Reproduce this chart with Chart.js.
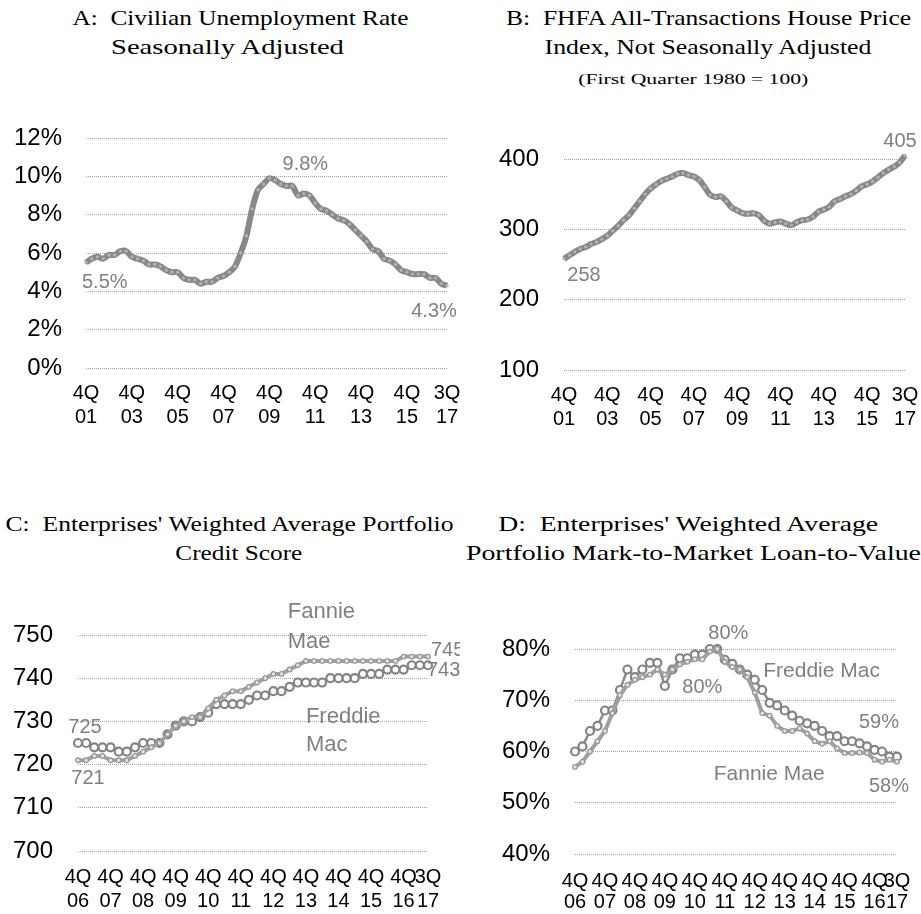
<!DOCTYPE html>
<html>
<head>
<meta charset="utf-8">
<script src="https://cdn.jsdelivr.net/npm/chart.js@4.4.1/dist/chart.umd.min.js"></script>
<style>
  html, body { margin: 0; padding: 0; background: #fff; }
  #wrap { position: relative; width: 921px; height: 914px; overflow: hidden; background: #fff; }
  canvas { position: absolute; }
  .t { position: absolute; white-space: pre; font-family: "Liberation Serif", "Times New Roman", serif;
       color: #000; transform-origin: 50% 50%; }
</style>
</head>
<body>
<div id="wrap">
  <canvas id="cA" width="460" height="340" style="left:0px; top:100px;"></canvas>
  <canvas id="cB" width="461" height="340" style="left:460px; top:100px;"></canvas>
  <canvas id="cC" width="460" height="334" style="left:0px; top:580px;"></canvas>
  <canvas id="cD" width="461" height="334" style="left:460px; top:580px;"></canvas>
</div>
<script>
// ---------- categories ----------
function quarters(q0, y0, q1, y1) {
  const out = [];
  let q = q0, y = y0;
  while (y < y1 || (y === y1 && q <= q1)) {
    out.push(q + 'Q' + String(y).padStart(2, '0'));
    q++; if (q > 4) { q = 1; y++; }
  }
  return out;
}
const quartersAB = quarters(4, 1, 3, 17);   // 4Q01 .. 3Q17
const quartersCD = quarters(4, 6, 3, 17);   // 4Q06 .. 3Q17

// ---------- series values ----------
const unemploymentRate = [5.5, 5.7, 5.8, 5.7, 5.9, 5.9, 6.1, 6.1, 5.8, 5.7, 5.6, 5.4, 5.4,
  5.3, 5.1, 5.0, 5.0, 4.7, 4.6, 4.6, 4.4, 4.5, 4.5, 4.7, 4.8, 5.0, 5.3, 6.0, 6.9,
  8.3, 9.3, 9.6, 9.9, 9.8, 9.6, 9.5, 9.5, 9.0, 9.1, 9.0, 8.6, 8.3, 8.2, 8.0, 7.8,
  7.7, 7.5, 7.2, 6.9, 6.6, 6.2, 6.1, 5.7, 5.6, 5.4, 5.1, 5.0, 4.9, 4.9, 4.9, 4.7,
  4.7, 4.4, 4.3];
const housePriceIndex = [258, 263, 268, 272, 275, 279, 282, 286, 291, 298, 305, 313, 320,
  330, 340, 350, 358, 364, 369, 372, 375, 379, 380, 377, 375, 370, 360, 349, 346,
  347, 340, 331, 327, 323, 322, 323, 320, 312, 308, 310, 311, 308, 306, 310, 313,
  314, 318, 325, 328, 332, 340, 343, 347, 350, 355, 361, 364, 368, 374, 380, 385,
  389, 395, 405];
const fannieCredit = [721, 721, 722, 722, 721, 721, 721, 722, 723, 724, 725, 727, 729, 730,
  731, 731, 733, 735, 736, 737, 737, 738, 739, 740, 741, 741, 742, 743, 744, 744,
  744, 744, 744, 744, 744, 744, 744, 744, 744, 744, 745, 745, 745, 745];
const freddieCredit = [725, 725, 724, 724, 724, 723, 723, 724, 725, 725, 725, 727, 729, 730,
  730, 731, 732, 734, 734, 734, 734, 735, 736, 736, 737, 737, 738, 739, 739, 739,
  739, 740, 740, 740, 740, 741, 741, 741, 742, 742, 742, 743, 743, 743];
const fannieLTV = [57, 58, 60, 62, 64, 67.5, 71, 73, 74, 74.5, 75, 76, 75, 76, 77, 77.5, 78,
  78, 79.5, 80, 77.5, 76.5, 76, 74.5, 71.5, 67.5, 67, 65, 64, 64, 64.5, 63.5, 62,
  61.5, 62, 60.6, 59.7, 59.7, 59.8, 59.7, 58.4, 58, 58.4, 58];
const freddieLTV = [60, 61, 64, 65, 68, 68, 72, 76, 74.5, 76, 77.3, 77.3, 72.8, 76, 78.2,
  78.2, 78.9, 78.9, 80, 80, 77.9, 77.1, 76, 75, 74, 72, 69.5, 69, 68, 67, 66, 65.5,
  65, 64, 63, 63, 62, 62, 61.6, 61, 60.3, 60, 59, 59];

// ---------- tick labels ----------
const yTicksA = [0, 2, 4, 6, 8, 10, 12];
const yTicksB = [100, 200, 300, 400];
const yTicksC = [700, 710, 720, 730, 740, 750];
const yTicksD = [40, 50, 60, 70, 80];

// ---------- titles ----------
const titleLines = [
  { text: 'A:  Civilian Unemployment Rate', cx: 240, cy: 18, w: 336, size: 21 },
  { text: 'Seasonally Adjusted', cx: 227, cy: 47, w: 233, size: 21 },
  { text: 'B:  FHFA All-Transactions House Price', cx: 709, cy: 18, w: 405, size: 21 },
  { text: 'Index, Not Seasonally Adjusted', cx: 708, cy: 47, w: 327, size: 21 },
  { text: '(First Quarter 1980 = 100)', cx: 693, cy: 79, w: 230, size: 14 },
  { text: "C:  Enterprises' Weighted Average Portfolio", cx: 229, cy: 524, w: 448, size: 21 },
  { text: 'Credit Score', cx: 239, cy: 553, w: 127, size: 21 },
  { text: "D:  Enterprises' Weighted Average", cx: 688, cy: 524, w: 380, size: 21 },
  { text: 'Portfolio Mark-to-Market Loan-to-Value', cx: 693, cy: 553, w: 455, size: 21 }
];
const wrap = document.getElementById('wrap');
titleLines.forEach(t => {
  const d = document.createElement('div');
  d.className = 't';
  d.textContent = t.text;
  d.style.fontSize = t.size + 'px';
  d.style.lineHeight = Math.round(t.size * 1.2) + 'px';
  wrap.appendChild(d);
  const r = d.getBoundingClientRect();
  d.style.left = (t.cx - r.width / 2) + 'px';
  d.style.top = (t.cy - r.height / 2) + 'px';
  d.style.transform = 'scaleX(' + (t.w / r.width).toFixed(3) + ')';
});

// ---------- rendering ----------
const SANS = '"Liberation Sans", Arial, sans-serif';
const GRAY = '#808080';
const notes = {};

const notePlugin = {
  id: 'notes',
  afterDatasetsDraw(chart) {
    const list = notes[chart.canvas.id] || [];
    const ctx = chart.ctx;
    ctx.save();
    list.forEach(n => {
      const pt = chart.getDatasetMeta(n.ds).data[n.i];
      const lines = Array.isArray(n.text) ? n.text : [n.text];
      ctx.font = (n.size || 20) + 'px ' + SANS;
      ctx.fillStyle = GRAY;
      ctx.textAlign = n.align || 'center';
      ctx.textBaseline = 'middle';
      const lh = n.lh || 28;
      lines.forEach((t, k) => ctx.fillText(t, pt.x + n.dx, pt.y + n.dy + k * lh));
    });
    ctx.restore();
  }
};

function makeChart(id, cats, datasets, yTicks, yFmt, step, lay, every) {
  const last = cats.length - 1;
  return new Chart(document.getElementById(id), {
    type: 'line',
    data: { labels: cats, datasets: datasets },
    options: {
      responsive: false,
      animation: false,
      devicePixelRatio: 1,
      layout: { autoPadding: false, padding: { left: 0, top: lay.top, right: lay.right, bottom: 0 } },
      plugins: { legend: { display: false }, tooltip: { enabled: false } },
      scales: {
        x: {
          type: 'category',
          grid: { display: false, drawTicks: false },
          border: { display: false },
          ticks: {
            autoSkip: false, maxRotation: 0, minRotation: 0, color: '#000',
            padding: lay.xpad,
            font: { family: SANS, size: 20, lineHeight: lay.xlh || 1.2 },
            callback: function (v, i) {
              if (i % every === 0 || i === last) {
                const q = cats[i];
                return [q.slice(0, 2), q.slice(2)];
              }
              return '';
            }
          },
          afterFit(s) { s.height = lay.xh; s.paddingLeft = 0; s.paddingRight = 0; }
        },
        y: {
          min: yTicks[0], max: yTicks[yTicks.length - 1],
          grid: { color: '#a0a0a0', lineWidth: 1, drawTicks: false },
          border: { display: false, dash: [1, 1] },
          ticks: {
            stepSize: step, color: '#000', padding: lay.ypad,
            font: { family: SANS, size: 24 },
            callback: v => yFmt(v)
          },
          afterFit(s) { s.width = lay.yw; s.paddingTop = 0; s.paddingBottom = 0; }
        }
      }
    },
    plugins: [notePlugin]
  });
}

function thickLine(data) {
  return {
    data: data, borderColor: '#888888', borderWidth: 6, tension: 0.3, clip: false,
    pointRadius: 1.7, pointBorderWidth: 0, pointBackgroundColor: '#b2b2b2'
  };
}
function bigMarkers(data) {
  return {
    data: data, borderColor: '#8a8a8a', borderWidth: 2.5, tension: 0, clip: false,
    pointRadius: 4, pointBorderWidth: 2.2, pointBorderColor: '#838383', pointBackgroundColor: '#ffffff'
  };
}
function smallMarkers(data) {
  return {
    data: data, borderColor: '#a0a0a0', borderWidth: 4, tension: 0, clip: false,
    pointRadius: 2.3, pointBorderWidth: 1.3, pointBorderColor: '#999999', pointBackgroundColor: '#e4e4e4'
  };
}

// Panel A
notes.cA = [
  { ds: 0, i: 0, dx: -4, dy: 20, text: '5.5%', align: 'left' },
  { ds: 0, i: 32, dx: 36, dy: -14, text: '9.8%' },
  { ds: 0, i: 63, dx: -13, dy: 26, text: '4.3%' }
];
makeChart('cA', quartersAB, [thickLine(unemploymentRate)], yTicksA, v => v + '%', 2,
  { top: 38, right: 13, xh: 72, yw: 86, xpad: 13, ypad: 24 }, 8);

// Panel B
notes.cB = [
  { ds: 0, i: 63, dx: -5, dy: -14, text: '405' },
  { ds: 0, i: 0, dx: 20, dy: 17, text: '258' }
];
makeChart('cB', quartersAB, [thickLine(housePriceIndex)], yTicksB, v => String(v), 100,
  { top: 59, right: 16, xh: 70, yw: 104, xpad: 13, ypad: 25 }, 8);

// Panel C
notes.cC = [
  { ds: 0, i: 43, dx: 3, dy: -6, text: '745', align: 'left' },
  { ds: 1, i: 43, dx: -1, dy: 5, text: '743', align: 'left' },
  { ds: 1, i: 0, dx: 7, dy: -16, text: '725' },
  { ds: 0, i: 0, dx: 10, dy: 18, text: '721' },
  { ds: 0, i: 27, dx: -10, dy: -53, text: ['Fannie', 'Mae'], align: 'left', size: 22, lh: 30 },
  { ds: 1, i: 28, dx: 0, dy: 34, text: ['Freddie', 'Mac'], align: 'left', size: 22, lh: 28 }
];
makeChart('cC', quartersCD, [smallMarkers(fannieCredit), bigMarkers(freddieCredit)], yTicksC, v => String(v), 10,
  { top: 55, right: 32, xh: 63, yw: 78, xpad: 14, ypad: 25 }, 4);

// Panel D
notes.cD = [
  { ds: 1, i: 19, dx: 11, dy: -16, text: '80%' },
  { ds: 0, i: 19, dx: -15, dy: 38, text: '80%' },
  { ds: 1, i: 25, dx: 1, dy: -19, text: 'Freddie Mac', align: 'left', size: 21 },
  { ds: 1, i: 43, dx: -18, dy: -34, text: '59%' },
  { ds: 0, i: 24, dx: -41, dy: 82, text: 'Fannie Mae', align: 'left', size: 21 },
  { ds: 0, i: 43, dx: -8, dy: 25, text: '58%' }
];
makeChart('cD', quartersCD, [smallMarkers(fannieLTV), bigMarkers(freddieLTV)], yTicksD, v => v + '%', 10,
  { top: 69, right: 24, xh: 60, yw: 115, xpad: 17, ypad: 25, xlh: 1.05 }, 4);
</script>
</body>
</html>
